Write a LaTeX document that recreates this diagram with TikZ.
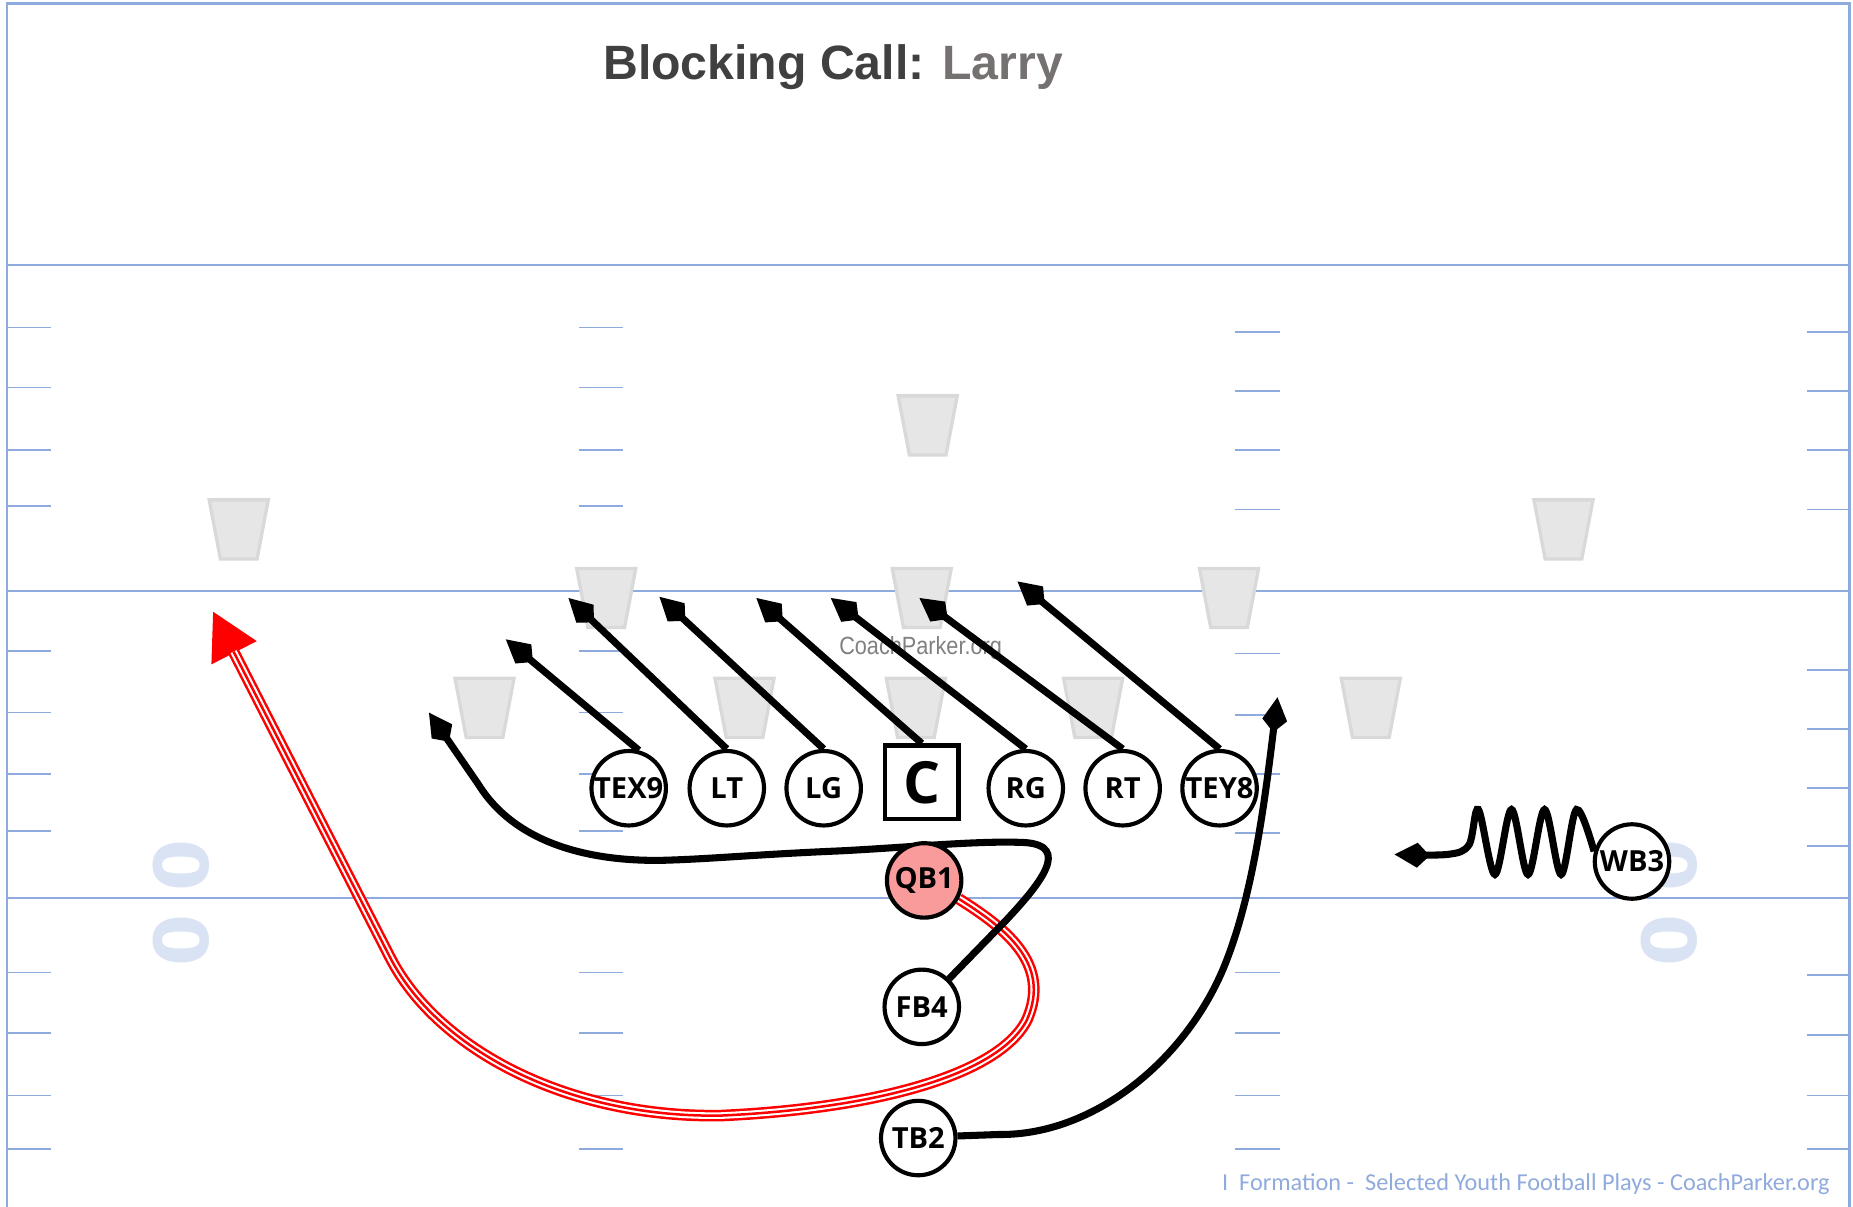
\documentclass[tikz,border=0pt]{standalone}
\usepackage{fontspec}
\setmainfont{Liberation Sans}
\newfontfamily\playerfont{Open Sans}
\newfontfamily\footfont{Carlito}
\newfontfamily\yardfont{DejaVu Sans}
\usetikzlibrary{arrows.meta}

\definecolor{fieldblue}{HTML}{8FAADC}
\definecolor{yardblue}{HTML}{DAE3F3}
\definecolor{defgray}{HTML}{E6E6E6}
\definecolor{defline}{HTML}{D9D9D9}
\definecolor{qbred}{HTML}{F99B9B}
\definecolor{titlegray}{HTML}{404040}
\definecolor{larrygray}{HTML}{767171}

\pgfdeclarelayer{field}
\pgfdeclarelayer{routes}
\pgfsetlayers{field,routes,main}

\begin{document}
\begin{tikzpicture}[x=0.1mm, y=-0.1mm,
	player/.style={shape=circle, draw, line width=1pt, fill=white, minimum size=6.3mm, inner sep=0pt, font=\playerfont\bfseries\fontsize{7}{8}\selectfont},
	snapbox/.style={shape=rectangle, draw, line width=1.1pt, fill=white, minimum size=6.2mm, inner sep=0pt, font=\playerfont\bfseries\fontsize{14}{16}\selectfont},
	route/.style={line width=1.7pt, -{Kite[length=8.5pt,width=6pt,inset=3pt]}},
	qbroute/.style={draw=red, line width=2.8pt, -{Triangle[length=11.3pt,width=11.4pt]},
		postaction={draw=white, line width=1.6pt, -, shorten >=11pt},
		postaction={draw=red, line width=0.6pt, -, shorten >=11pt}},
	fieldline/.style={fieldblue, line width=0.4pt},
	hashmark/.style={fieldblue, line width=0.4pt},
	defbox/.style={fill=defgray, draw=defline, line width=0.8pt},
	yardnum/.style={rotate=90, text=yardblue, inner sep=0pt, font=\yardfont\bfseries\fontsize{18}{20}\selectfont}]
	\useasboundingbox (0,0) rectangle (1568,1021);

	\begin{pgfonlayer}{field}
		% Field
		\draw[fieldblue, line width=0.55pt] (6,1021) -- (6,3) -- (1565,3) -- (1565,1021);
		\draw[fieldline] (6,224) -- (1565,224);
		\draw[fieldline] (6,500) -- (1565,500);
		\draw[fieldline] (6,760) -- (1565,760);
		\foreach \y in {277,328,381,428,551,603,655,703,823,874,927,972} {
			\draw[hashmark] (6,\y) -- (43,\y);
			\draw[hashmark] (490,\y) -- (527,\y);
		}
		\foreach \y in {281,331,381,431,553,605,655,705,823,874,927,972}
			\draw[hashmark] (1045,\y) -- (1083,\y);
		\foreach \y in {281,331,381,431,567,617,667,716,825,876,927,972}
			\draw[hashmark] (1529,\y) -- (1565,\y);
		\node[yardnum] (zeroL1) at (153.5,732) {0};
		\node[yardnum] (zeroL2) at (153.5,796) {0};
		\node[yardnum] (zeroR1) at (1412.5,732) {0};
		\node[yardnum] (zeroR2) at (1412.5,796) {0};
		% Defense
		\foreach \x/\y in {785/335, 202/423, 1323/423, 513/481, 780/481, 1040/481, 410/574, 630/574, 775/574, 925/574, 1160/574}
			\draw[defbox] ({\x-25},\y) -- ({\x+25},\y) -- ({\x+15.5},{\y+50}) -- ({\x-15.5},{\y+50}) -- cycle;
		\node[text=gray, font=\fontsize{6}{7}\selectfont] (mark) at (779,548) {\scalebox{0.87}[1]{CoachParker.org}};
	\end{pgfonlayer}

	\node[anchor=base, font=\bfseries\fontsize{11.6}{14}\selectfont] (title) at (705,67) {\textcolor{titlegray}{Blocking Call:} \textcolor{larrygray}{Larry}};
	\node[anchor=base east, inner sep=0pt, text=fieldblue, font=\footfont\fontsize{5.85}{7}\selectfont] (foot) at (1549,1007) {I\ \ Formation -\ \ Selected Youth Football Plays - CoachParker.org};

	% Offense
	\node[player] (TEX9) at (532,667) {TEX9};
	\node[player] (LT) at (615,667) {LT};
	\node[player] (LG) at (697,667) {LG};
	\node[snapbox] (C) at (780,662) {C};
	\node[player] (RG) at (868,667) {RG};
	\node[player] (RT) at (950,667) {RT};
	\node[player] (TEY8) at (1032,667) {TEY8};
	\node[player, fill=qbred] (QB1) at (782,745) {QB1};
	\node[player] (FB4) at (780,852) {FB4};
	\node[player] (TB2) at (777,963) {TB2};
	\node[player] (WB3) at (1381,729) {WB3};

	% Route ends
	\coordinate (tTEX9) at (428,541);
	\coordinate (tLT) at (481,506);
	\coordinate (tLG) at (558,505);
	\coordinate (tC) at (640,506);
	\coordinate (tRG) at (703,506);
	\coordinate (tRT) at (778,506);
	\coordinate (tTEY8) at (861,492);
	\coordinate (tFB4) at (363,603);
	\coordinate (tTB2) at (1081,590);
	\coordinate (tQB1) at (180,517);
	\coordinate (tWB3) at (1180,723);

	\begin{pgfonlayer}{routes}
		%% Blocks
		\draw[route] (TEX9.75) -- (tTEX9);
		\draw[route] (LT.north) -- (tLT);
		\draw[route] (LG.north) -- (tLG);
		\draw[route] (C.north) -- (tC);
		\draw[route] (RG.north) -- (tRG);
		\draw[route] (RT.north) -- (tRT);
		\draw[route] (TEY8.north) -- (tTEY8);
		%% Ball carrier
		\draw[qbroute] (QB1.-28) .. controls (850,785) and (890,815) .. (869,863) .. controls (845,910) and (740,938) .. (610,944) .. controls (480,946) and (370,888) .. (330,810) -- (tQB1);
		%% Backs
		\draw[route] (FB4) -- (852,778) .. controls (882,746) and (905,716) .. (868,713) .. controls (830,711) and (770,717) .. (711,720) .. controls (640,723) and (600,727) .. (560,728) .. controls (495,729) and (435,712) .. (405,664) -- (tFB4);
		\draw[route] (TB2.3) -- (845,960) .. controls (925,961) and (1002,898) .. (1035,820) .. controls (1060,760) and (1070,680) .. (tTB2);
		\draw[route] plot[smooth, tension=0.55] coordinates {(WB3.165) (1334,685) (1321,740) (1307,685) (1293,740) (1279,685) (1265,740) (1251,685) (1243,715) (1225,723) (tWB3)};
	\end{pgfonlayer}
\end{tikzpicture}
\end{document}
